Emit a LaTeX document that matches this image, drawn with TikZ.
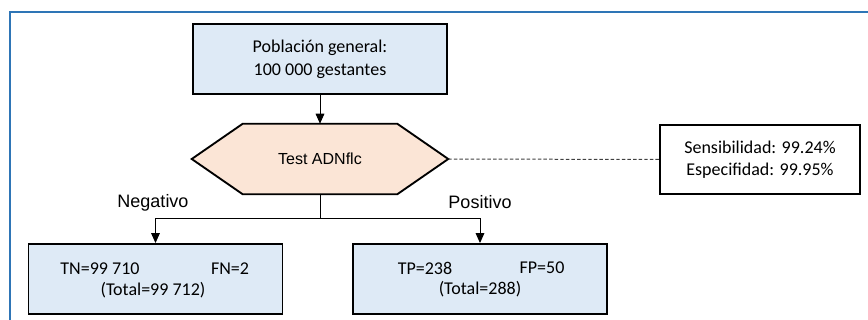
\documentclass[tikz,border=0pt]{standalone}
\usepackage{fontspec}
\setmainfont{Carlito}
\newfontfamily\arialfont{Liberation Sans}
\usetikzlibrary{arrows.meta,calc,backgrounds}
\definecolor{framecol}{HTML}{2E75B6}
\definecolor{boxfill}{HTML}{DEEAF6}
\definecolor{hexfill}{HTML}{FBE5D6}
\definecolor{dashcol}{HTML}{404040}
\tikzset{
  bluebox/.style={draw=black, line width=1.4pt, fill=boxfill, rectangle, inner sep=0pt,
    minimum width=190.5pt, minimum height=52.5pt},
  whitebox/.style={draw=black, line width=1.4pt, fill=white, rectangle, inner sep=0pt,
    minimum width=150pt, minimum height=51.75pt, align=center,
    font=\fontsize{13.5}{16.5}\selectfont},
  hexshape/.style={draw=black, line width=1.4pt, fill=hexfill},
  txt/.style={inner sep=0pt, font=\fontsize{13.5}{17.25}\selectfont},
  branchlabel/.style={inner sep=0pt, font=\arialfont\fontsize{13.5}{16}\selectfont},
  conn/.style={draw=black, line width=0.75pt},
  arrowconn/.style={conn, -{Triangle[length=7.5pt,width=6.5pt]}},
  dashconn/.style={draw=dashcol, line width=0.75pt, dash pattern=on 2.6pt off 1.6pt}
}
\begin{document}
\begin{tikzpicture}[x=0.75pt, y=-0.75pt]
\useasboundingbox (0,0) rectangle (868,320);
% outer frame
\draw[framecol, line width=1.5pt] (880,11.7) -- (10,11.7) -- (10,330);

% top box
\node[bluebox, align=center, font=\fontsize{13.5}{17.25}\selectfont] (pop) at (320,59)
  {Población general:\\100 000 gestantes};

% hexagon
\node[inner sep=0pt, minimum width=192pt, minimum height=52.5pt,
  font=\arialfont\fontsize{12}{14}\selectfont] (test) at (320,159) {Test ADNflc};
\begin{scope}[on background layer]
\draw[hexshape] (test.west) -- ($(test.north west)+(51,0)$) -- ($(test.north east)+(-51,0)$)
  -- (test.east) -- ($(test.south east)+(-51,0)$) -- ($(test.south west)+(51,0)$) -- cycle;
\end{scope}

% sensitivity box
\node[whitebox] (sens) at (760,159.5) {Sensibilidad: 99.24\%\\Especifidad: 99.95\%};
\draw[dashconn] (test.east) -- (sens.west);

% bottom boxes
\node[bluebox] (neg) at (155.5,279) {};
\node[bluebox] (pos) at (480,279) {};

\node[txt] (tn) at (100,269) {TN=99 710};
\node[txt] (fn) at (230,269) {FN=2};
\node[txt] (tneg) at (153,290) {(Total=99 712)};
\node[txt] (tp) at (425,268) {TP=238};
\node[txt] (fp) at (542,268) {FP=50};
\node[txt] (tpos) at (480,289) {(Total=288)};

% connectors
\draw[arrowconn] (pop.south) -- (test.north);
\coordinate (split) at (320,219);
\draw[conn] (test.south) -- (split);
\draw[arrowconn] (split) -| (neg.north);
\draw[arrowconn] (split) -| (pos.north);

% labels
\node[branchlabel] (lneg) at (153,203) {Negativo};
\node[branchlabel] (lpos) at (480,202) {Positivo};
\end{tikzpicture}
\end{document}
